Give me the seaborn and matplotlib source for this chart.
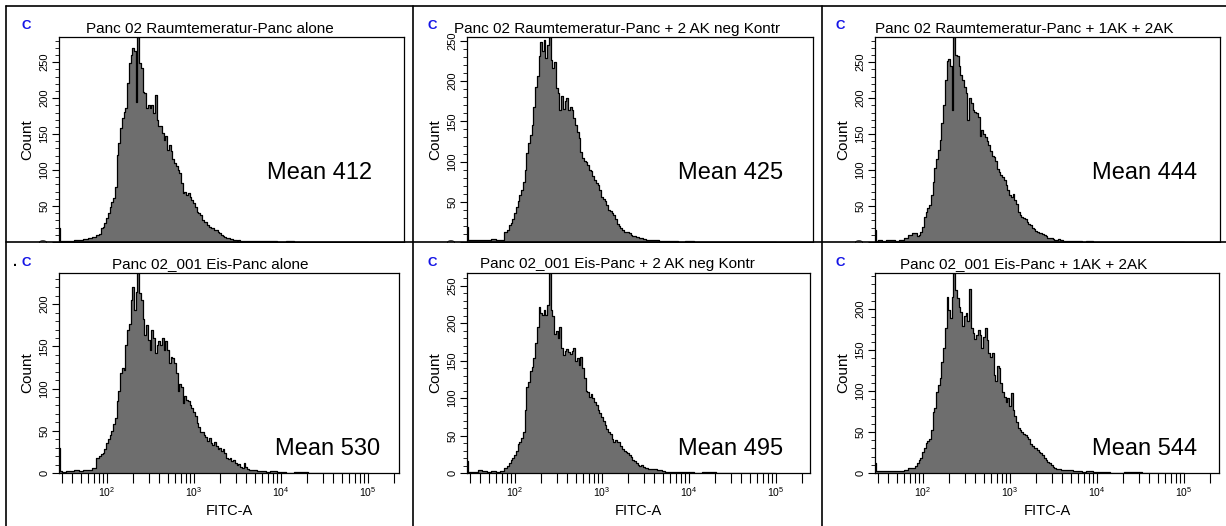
import numpy as np
import pandas as pd
import matplotlib
matplotlib.use("Agg")
import matplotlib.pyplot as plt
import seaborn as sns
from matplotlib.lines import Line2D
from matplotlib.patches import Rectangle
from matplotlib.ticker import MultipleLocator, FixedLocator, FixedFormatter, LogLocator, NullFormatter

# ---------------- data ----------------
# bin centres, log10(FITC-A)
log_fitc = [1.45, 1.46, 1.47, 1.50, 1.55, 1.60, 1.65, 1.70, 1.75, 1.80, 1.85,
            1.90, 1.92, 1.94, 1.96, 1.98, 2.00, 2.02, 2.04, 2.06, 2.08,
            2.10, 2.12, 2.14, 2.16, 2.18, 2.20, 2.22, 2.24, 2.26, 2.28,
            2.30, 2.32, 2.34, 2.36, 2.38, 2.40, 2.42, 2.44, 2.46, 2.48,
            2.50, 2.52, 2.54, 2.56, 2.58, 2.60, 2.62, 2.64, 2.66, 2.68,
            2.70, 2.72, 2.74, 2.76, 2.78, 2.80, 2.82, 2.84, 2.86, 2.88,
            2.90, 2.92, 2.94, 2.96, 2.98, 3.00, 3.02, 3.04, 3.06, 3.08,
            3.10, 3.12, 3.14, 3.16, 3.18, 3.20, 3.22, 3.24, 3.26, 3.28,
            3.30, 3.32, 3.34, 3.36, 3.38, 3.40, 3.42, 3.44, 3.46, 3.48,
            3.50, 3.52, 3.54, 3.56, 3.58, 3.60, 3.62, 3.64, 3.66, 3.68,
            3.70,
            3.75, 3.80, 3.85, 3.90, 4.00, 4.10, 4.20, 4.40, 4.60, 5.00]

rt_alone = [19, 19, 2, 2, 2, 2, 3, 3, 4, 6, 7,
            10, 11, 19, 21, 26, 33, 40, 49, 56, 61,
            77, 121, 137, 158, 172, 181, 186, 221, 249, 260,
            270, 265, 195, 285, 249, 242, 209, 207, 186, 191,
            186, 191, 179, 205, 170, 161, 161, 151, 142, 147,
            128, 135, 126, 116, 110, 105, 100, 96, 82, 68,
            70, 65, 68, 63, 58, 54, 49, 42, 40, 38,
            31, 28, 28, 24, 21, 20, 19, 17, 16, 14,
            12, 10, 9, 7, 6, 5, 4, 4, 3, 3,
            2, 3, 2, 2, 2, 2, 1, 2, 1, 1,
            1,
            1, 1, 1, 1, 0, 1, 0, 0, 0, 0]

rt_neg_ctrl = [19, 19, 2, 2, 2, 3, 2, 3, 4, 3, 3,
               13, 15, 21, 24, 29, 36, 43, 51, 58, 65,
               75, 90, 111, 123, 133, 146, 168, 193, 206, 231,
               249, 237, 251, 229, 245, 255, 227, 216, 224, 191,
               185, 164, 181, 166, 176, 179, 164, 168, 164, 154,
               146, 137, 129, 112, 104, 101, 100, 96, 90, 88,
               82, 77, 74, 71, 65, 56, 54, 51, 46, 40,
               38, 36, 33, 28, 23, 20, 17, 15, 13, 13,
               12, 11, 9, 8, 7, 6, 6, 5, 5, 4,
               4, 3, 3, 2, 2, 2, 2, 2, 1, 1,
               1,
               1, 1, 1, 0, 1, 0, 0, 0, 0, 0]

rt_1ak_2ak = [17, 17, 2, 3, 2, 3, 3, 2, 3, 5, 10,
              12, 13, 8, 10, 14, 21, 35, 42, 47, 52,
              65, 84, 103, 115, 128, 142, 165, 191, 225, 252,
              254, 244, 184, 285, 260, 258, 244, 232, 225, 216,
              207, 170, 200, 193, 184, 181, 179, 174, 147, 156,
              150, 146, 140, 135, 126, 120, 118, 113, 101, 97,
              93, 91, 86, 79, 72, 65, 63, 67, 58, 53,
              42, 38, 35, 33, 32, 28, 25, 23, 20, 18,
              15, 14, 13, 12, 11, 10, 8, 6, 5, 5,
              4, 3, 3, 4, 3, 3, 2, 2, 2, 1,
              1,
              1, 1, 0, 1, 0, 0, 0, 0, 0, 0]

eis_alone = [30, 30, 2, 1, 2, 2, 4, 2, 3, 4, 6,
             18, 20, 22, 24, 28, 35, 40, 45, 50, 58,
             65, 85, 97, 118, 124, 122, 152, 169, 177, 205,
             221, 193, 215, 237, 213, 205, 183, 164, 175, 158,
             146, 169, 160, 142, 152, 156, 152, 160, 146, 156,
             146, 130, 138, 136, 130, 118, 97, 106, 102, 83,
             91, 87, 85, 81, 77, 72, 67, 59, 55, 49,
             48, 45, 43, 38, 41, 35, 33, 37, 32, 28,
             30, 26, 28, 24, 18, 16, 18, 14, 15, 12,
             10, 11, 7, 6, 12, 7, 5, 4, 4, 3,
             3,
             2, 2, 1, 2, 1, 0, 1, 0, 0, 0]

eis_neg_ctrl = [16, 16, 2, 2, 2, 4, 3, 2, 3, 2, 3,
                7, 9, 14, 17, 20, 24, 30, 39, 42, 47,
                55, 84, 115, 121, 136, 141, 153, 173, 195, 222,
                213, 211, 218, 211, 224, 267, 218, 209, 186, 189,
                180, 195, 167, 157, 163, 166, 162, 159, 163, 167,
                150, 153, 144, 155, 140, 127, 109, 108, 102, 105,
                100, 95, 91, 84, 80, 75, 69, 64, 59, 55,
                52, 46, 42, 44, 42, 41, 36, 32, 30, 28,
                27, 24, 22, 18, 16, 13, 11, 10, 11, 8,
                7, 7, 6, 6, 5, 6, 5, 4, 4, 4,
                3,
                2, 2, 1, 1, 1, 0, 1, 0, 0, 0]

eis_1ak_2ak = [12, 12, 2, 2, 2, 3, 2, 3, 3, 4, 6,
               6, 9, 12, 16, 18, 26, 30, 37, 39, 41,
               53, 75, 79, 99, 107, 116, 136, 152, 177, 215,
               199, 189, 215, 244, 223, 213, 203, 197, 179, 191,
               195, 185, 225, 177, 171, 164, 168, 174, 168, 152,
               166, 177, 162, 146, 141, 146, 120, 112, 131, 128,
               110, 99, 93, 87, 91, 82, 97, 77, 69, 62,
               55, 53, 50, 48, 46, 44, 41, 35, 33, 31,
               30, 28, 26, 24, 22, 18, 16, 14, 12, 10,
               7, 6, 5, 5, 5, 4, 4, 4, 4, 4,
               4,
               3, 2, 1, 2, 1, 1, 0, 1, 0, 0]

titles = ["Panc 02 Raumtemeratur-Panc alone",
          "Panc 02 Raumtemeratur-Panc + 2 AK neg Kontr",
          "Panc 02 Raumtemeratur-Panc + 1AK + 2AK",
          "Panc 02_001 Eis-Panc alone",
          "Panc 02_001 Eis-Panc + 2 AK neg Kontr",
          "Panc 02_001 Eis-Panc + 1AK + 2AK"]
means = [412, 425, 444, 530, 495, 544]
y_max = [285, 255, 285, 237, 267, 244]
x_major = [1e2, 1e3, 1e4, 1e5]
x_major_labels = ["$10^{2}$", "$10^{3}$", "$10^{4}$", "$10^{5}$"]
series = [rt_alone, rt_neg_ctrl, rt_1ak_2ak, eis_alone, eis_neg_ctrl, eis_1ak_2ak]
for s in series:
    assert len(s) == len(log_fitc), len(s)

# ---------------- style ----------------
sns.set_theme(style="white")
plt.rcParams['font.family'] = ['Liberation Sans', 'DejaVu Sans']
plt.rcParams['mathtext.fontset'] = 'custom'
plt.rcParams['mathtext.rm'] = 'Liberation Sans'
plt.rcParams['mathtext.it'] = 'Liberation Sans:italic'
plt.rcParams['mathtext.bf'] = 'Liberation Sans:bold'

W, H = 1226, 526
fig = plt.figure(figsize=(W / 100, H / 100), dpi=100)
fig.patch.set_facecolor('white')

def fx(px):
    return px / W

def fy(py):
    return 1 - py / H

boxes = [(59, 37, 404, 242), (467, 37, 813, 242), (875, 37, 1220, 242),
         (59, 273, 399, 473), (467, 273, 810, 473), (875, 273, 1219, 473)]
cell_cx = [210, 617.5, 1024]
FILL = '#6e6e6e'
LOGMIN = 1.448
PX_PER_DECADE = 87.0

for i, (counts, box) in enumerate(zip(series, boxes)):
    l, t, r, b = box
    bottom_row = i >= 3
    ax = fig.add_axes([fx(l), fy(b), (r - l) / W, (b - t) / H])
    ax.set_zorder(2 if bottom_row else 0)
    df = pd.DataFrame({'FITC-A': 10 ** np.array(log_fitc), 'Count': counts})
    ax.set_xscale('log')
    ax.fill_between(df['FITC-A'], df['Count'], 0, color=FILL, lw=0, zorder=1,
                    step='mid')
    sns.lineplot(data=df, x='FITC-A', y='Count', ax=ax, color='black',
                 lw=0.9, estimator=None, zorder=2, drawstyle='steps-mid')
    ax.set_xlim(10 ** LOGMIN, 10 ** (LOGMIN + (r - l) / PX_PER_DECADE))
    ax.set_ylim(0, y_max[i])
    ax.grid(False)
    for sp in ax.spines.values():
        sp.set_visible(True)
        sp.set_color('black')
        sp.set_linewidth(0.9)

    ax.yaxis.set_major_locator(MultipleLocator(50))
    ax.yaxis.set_minor_locator(MultipleLocator(10))
    ax.tick_params(axis='y', which='major', left=True, direction='out', length=5,
                   width=0.8, pad=2, labelsize=8, labelrotation=90, colors='black')
    ax.tick_params(axis='y', which='minor', left=True, direction='out', length=3,
                   width=0.7)
    for lab in ax.get_yticklabels():
        lab.set_va('center')
    ax.set_ylabel('Count', fontsize=11, color='black')
    ax.yaxis.set_label_coords(-25 / (r - l), 0.5)

    if bottom_row:
        ax.xaxis.set_major_locator(FixedLocator(x_major))
        ax.xaxis.set_major_formatter(FixedFormatter(x_major_labels))
        ax.xaxis.set_minor_locator(LogLocator(base=10, subs=np.arange(2, 10), numticks=30))
        ax.xaxis.set_minor_formatter(NullFormatter())
        ax.tick_params(axis='x', which='both', bottom=True, direction='out', length=7,
                       width=0.8, pad=2, labelsize=7.5, colors='black')
        ax.set_xlabel('FITC-A', fontsize=10.5, color='black')
        ax.xaxis.set_label_coords(0.5, -(504 - 473) / (b - t))
        ax.xaxis.label.set_va('top')
    else:
        ax.tick_params(axis='x', which='both', bottom=False, labelbottom=False)
        ax.set_xlabel('')

    cx = cell_cx[i % 3]
    base_title = 33 if not bottom_row else 268
    fig.text(fx(cx), fy(base_title), titles[i], ha='center', va='baseline',
             fontsize=11, color='black', zorder=4)
    c_x = [21, 427, 836][i % 3]
    c_base = 29 if not bottom_row else 266
    fig.text(fx(c_x), fy(c_base), 'C', ha='left', va='baseline', fontsize=9.5,
             fontweight='bold', color='#1414e6', zorder=4)
    m_x = [267, 678, 1092][i % 3] + (8 if i == 3 else 0)
    m_base = 179 if not bottom_row else 455
    fig.text(fx(m_x), fy(m_base), f'Mean {means[i]}', ha='left', va='baseline',
             fontsize=17, color='black', zorder=4)

# white cover for the lower half (hides top-row overhang)
fig.add_artist(Rectangle((0, 0), 1, fy(243), transform=fig.transFigure,
                         facecolor='white', edgecolor='none', zorder=1))
# the small dot before the lower-left "C"
fig.text(fx(13), fy(266), '.', fontsize=10, fontweight='bold', color='black', zorder=4)

# cell borders
lines = [((6, 1226), (6, 6)), ((6, 1226), (242, 242)),
         ((6, 6), (6, 526)), ((413, 413), (6, 526)), ((822, 822), (6, 526))]
for xs, ys in lines:
    fig.add_artist(Line2D([fx(xs[0]), fx(xs[1])], [fy(ys[0]), fy(ys[1])],
                          transform=fig.transFigure, color='black', lw=1.2, zorder=5))

fig.savefig('out.png', dpi=100)
